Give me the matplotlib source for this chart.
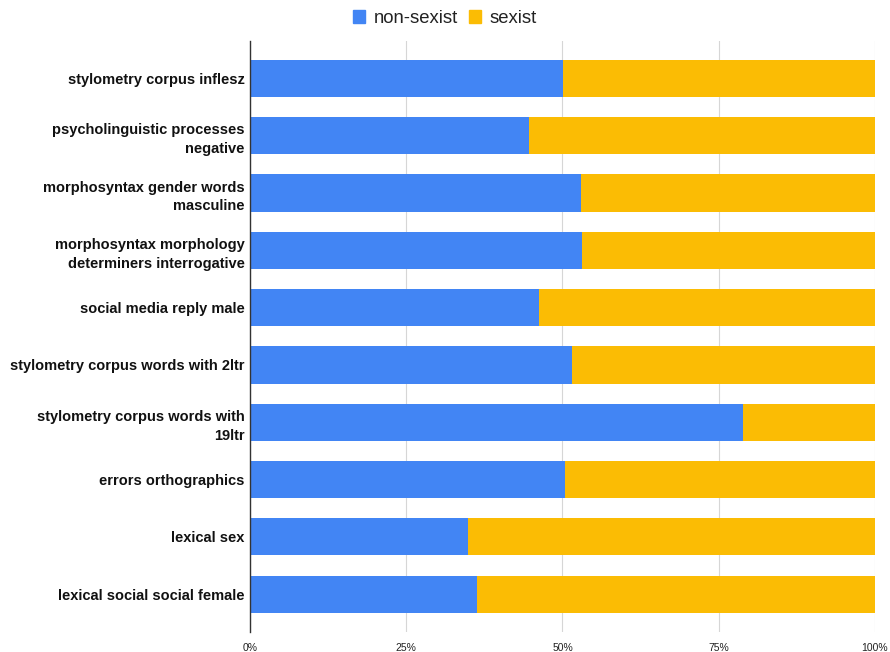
import matplotlib.pyplot as plt
from matplotlib.patches import Patch

# Data
categories = [
    "stylometry corpus inflesz",
    "psycholinguistic processes\nnegative",
    "morphosyntax gender words\nmasculine",
    "morphosyntax morphology\ndeterminers interrogative",
    "social media reply male",
    "stylometry corpus words with 2ltr",
    "stylometry corpus words with\n19ltr",
    "errors orthographics",
    "lexical sex",
    "lexical social social female",
]
non_sexist = [50.1, 44.6, 53.0, 53.1, 46.2, 51.5, 78.9, 50.4, 34.9, 36.3]
sexist = [100 - v for v in non_sexist]
tick_values = [0, 25, 50, 75, 100]
tick_labels = ["0%", "25%", "50%", "75%", "100%"]

blue = "#4285F4"
yellow = "#FBBC04"

plt.rcParams['font.family'] = ['Liberation Sans', 'DejaVu Sans']

fig = plt.figure(figsize=(8.9, 6.52), dpi=100)
ax = fig.add_axes([0.2809, 0.0307, 0.7022, 0.907])

y = list(range(len(categories)))
ax.barh(y, non_sexist, height=0.65, color=blue, zorder=2)
ax.barh(y, sexist, left=non_sexist, height=0.65, color=yellow, zorder=2)

ax.set_xlim(0, 100)
ax.set_ylim(len(categories) - 0.34, -0.66)
ax.set_xticks(tick_values)
ax.set_xticklabels(tick_labels, fontsize=7.5, color="#222222")
ax.set_yticks(y)
ax.set_yticklabels(categories, fontsize=10.5, fontweight="bold", color="#111111",
                   linespacing=1.45)
ax.tick_params(axis="both", length=0)
ax.tick_params(axis="x", pad=8)
ax.tick_params(axis="y", pad=4)

ax.grid(axis="x", color="#d6d6d6", linewidth=0.8, zorder=0)
for side in ["top", "right", "bottom"]:
    ax.spines[side].set_visible(False)
ax.spines["left"].set_color("#333333")
ax.spines["left"].set_linewidth(1)
ax.spines["left"].set_zorder(3)

handles = [Patch(color=blue, label="non-sexist"), Patch(color=yellow, label="sexist")]
leg = fig.legend(handles=handles, loc="upper center", bbox_to_anchor=(0.5, 1.01), ncol=2,
                 frameon=False, fontsize=13.3, handlelength=0.65, handleheight=0.65,
                 handletextpad=0.45, columnspacing=0.6)
for t in leg.get_texts():
    t.set_color("#222222")

fig.savefig("out.png", dpi=100)
